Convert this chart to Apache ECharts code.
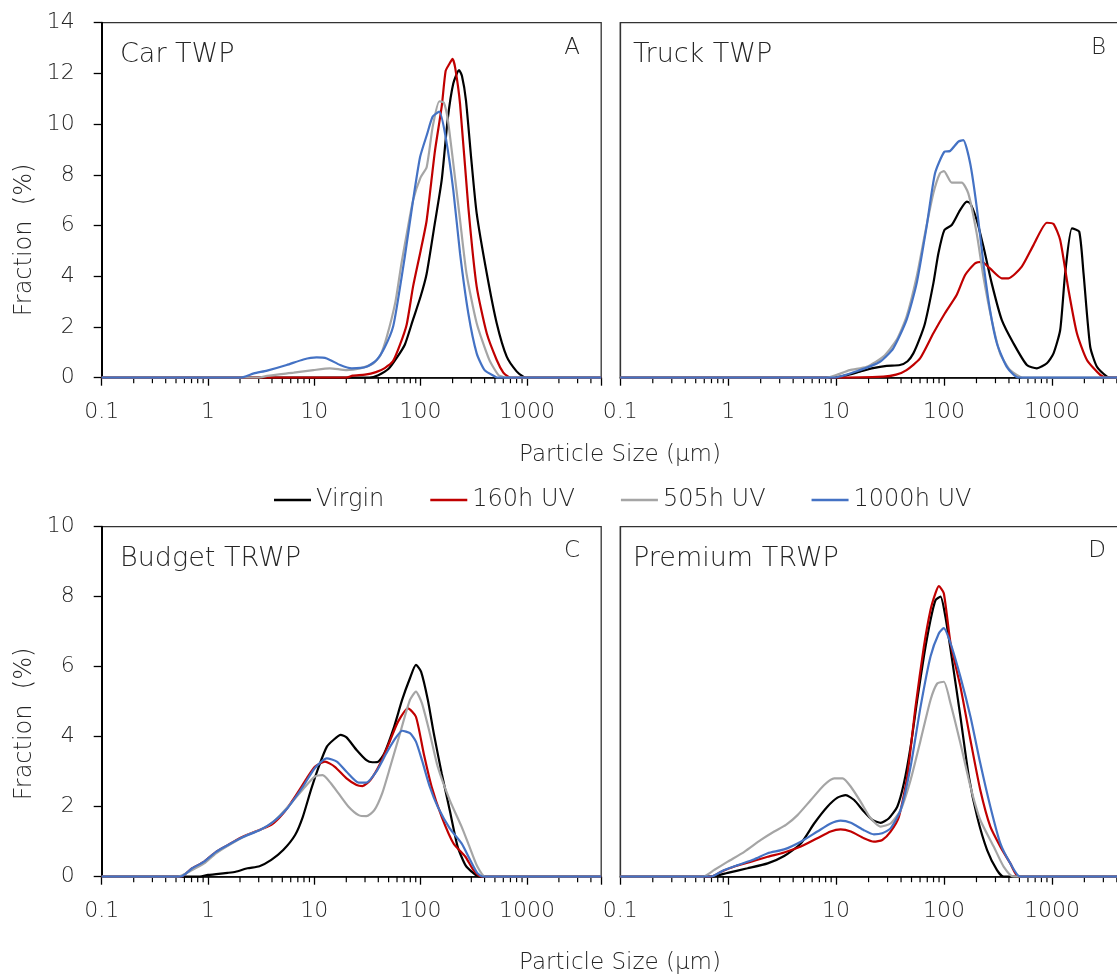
<!DOCTYPE html>
<html>
<head>
<meta charset="utf-8">
<script src="https://cdn.jsdelivr.net/npm/echarts@6/dist/echarts.min.js"></script>
<style>
html,body{margin:0;padding:0;background:#fff;}
#chart{width:1117px;height:978px;}
</style>
</head>
<body>
<div id="chart"></div>
<script>
// ---------------- data ----------------
const seriesNames = ['Virgin', '160h UV', '505h UV', '1000h UV'];
const panelTitles = ['Car TWP', 'Truck TWP', 'Budget TRWP', 'Premium TRWP'];
const panelLetters = ['A', 'B', 'C', 'D'];
const xTickLabels = [0.1, 1, 10, 100, 1000];
const xMin = 0.1, xMax = 5000;
const yMaxTop = 14, yMaxBottom = 10, yStep = 2;
const minorTickSizes = [0.2,0.3,0.4,0.5,0.6,0.7,0.8,0.9, 2,3,4,5,6,7,8,9, 20,30,40,50,60,70,80,90,
  200,300,400,500,600,700,800,900, 2000,3000,4000];

// Panel A - Car TWP  [size µm, fraction %]
const carVirgin = [[0.1,0],[33,0],[40,0.1],[50,0.35],[60,0.8],[71,1.3],[85,2.3],[100,3.2],[114,4.1],[135,6.0],[158,7.8],[180,10.2],[203,11.6],[230,12.13],[245,11.9],[267,10.95],[300,8.6],[337,6.48],[419,4.12],[520,2.15],[646,0.83],[800,0.25],[925,0.04],[1000,0],[5000,0]];
const car160 = [[0.1,0],[20,0],[23,0.08],[30,0.12],[38,0.22],[46,0.38],[55,0.65],[64,1.3],[74,2.1],[85,3.6],[100,5.0],[114,6.2],[136,8.9],[158,10.7],[172,12.1],[185,12.35],[200,12.57],[212,12.2],[235,10.8],[281,6.74],[337,3.59],[419,1.75],[520,0.7],[600,0.2],[668,0.04],[720,0],[5000,0]];
const car505 = [[0.1,0],[3,0],[3.6,0.07],[6.4,0.2],[9.8,0.3],[14,0.37],[20,0.3],[27,0.37],[36,0.57],[42,0.9],[48,1.6],[58,3.0],[66,4.5],[75,5.8],[85,7.0],[100,7.9],[114,8.3],[130,9.9],[150,10.9],[165,10.85],[180,10.2],[203,8.45],[235,6.22],[270,4.12],[337,2.15],[443,0.7],[540,0.1],[591,0.04],[620,0],[5000,0]];
const car1000 = [[0.1,0],[2,0],[2.7,0.17],[3.6,0.28],[5.5,0.5],[7.9,0.72],[10.5,0.8],[13.1,0.76],[17.5,0.5],[22.5,0.37],[31,0.43],[38.6,0.7],[46,1.2],[55,2.0],[62,3.2],[71,4.77],[85,7.0],[99,8.71],[115,9.6],[130,10.3],[150,10.49],[174,9.37],[203,7.4],[235,4.9],[281,2.54],[337,0.96],[400,0.3],[504,0.04],[530,0],[5000,0]];

// Panel B - Truck TWP
const truckVirgin = [[0.1,0],[9.4,0],[12,0.08],[16.6,0.24],[22,0.38],[29.4,0.47],[39,0.5],[46,0.65],[52,0.96],[59,1.5],[66.7,2.15],[79.7,3.72],[88.7,4.9],[100.8,5.82],[118,6.02],[141,6.61],[163,6.94],[175,6.88],[201,6.22],[232,5.17],[277,3.72],[343,2.28],[440,1.36],[586,0.5],[726,0.37],[899,0.57],[1036,0.96],[1194,1.88],[1328,4.12],[1535,5.89],[1792,5.76],[1964,4.12],[2266,1.22],[2616,0.43],[3237,0.04],[3500,0],[5000,0]];
const truck160 = [[0.1,0],[9.4,0],[27.4,0.04],[36,0.12],[45,0.3],[60,0.76],[79.7,1.75],[102,2.54],[131,3.26],[157,4.05],[194,4.51],[224,4.57],[267,4.31],[343,3.92],[396,3.92],[526,4.38],[675,5.23],[899,6.11],[1036,6.06],[1194,5.43],[1426,3.46],[1706,1.75],[2113,0.7],[2807,0.11],[3237,0],[5000,0]];
const truck505 = [[0.1,0],[8.2,0],[10,0.1],[13.4,0.3],[19.2,0.43],[27.4,0.83],[36.4,1.49],[45,2.41],[55.8,3.98],[66.7,5.69],[79.7,7.27],[91.8,8.06],[100,8.15],[118,7.69],[146,7.69],[168,7.27],[201,5.69],[232,3.98],[277,2.28],[331,0.96],[410,0.3],[545,0],[5000,0]];
const truck1000 = [[0.1,0],[9.4,0],[16.6,0.3],[25.5,0.63],[33.9,1.16],[45,2.28],[55.8,3.72],[69,5.96],[82.6,8.06],[100.8,8.91],[113.8,8.94],[136,9.31],[151,9.37],[175,8.45],[201,6.74],[232,4.51],[267,2.67],[309,1.36],[382,0.43],[490,0],[5000,0]];

// Panel C - Budget TRWP
const budgetVirgin = [[0.1,0],[0.84,0],[1,0.05],[1.53,0.11],[1.82,0.14],[2.35,0.24],[3.05,0.3],[3.94,0.48],[5.1,0.76],[6.6,1.19],[7.8,1.71],[9.3,2.48],[11,3.14],[13.1,3.71],[15.3,3.92],[17.7,4.05],[20.1,3.98],[25,3.62],[30.9,3.33],[35.2,3.27],[40,3.29],[45.5,3.52],[56.4,4.29],[67,5.05],[79.4,5.67],[90.4,6.05],[101,5.86],[117,5.05],[133,4.1],[158,2.95],[188,1.9],[223,0.86],[264,0.33],[314,0.1],[357,0],[5000,0]];
const budget160 = [[0.1,0],[0.55,0],[0.71,0.24],[0.92,0.43],[1.19,0.71],[1.53,0.9],[1.98,1.1],[2.79,1.29],[3.94,1.48],[5.1,1.81],[6.6,2.29],[8.5,2.81],[10.1,3.14],[12.6,3.29],[15.6,3.14],[20.1,2.81],[25,2.62],[28.4,2.59],[33.7,2.76],[41.8,3.24],[51.8,3.9],[61.4,4.43],[76.2,4.81],[90.4,4.57],[107,3.52],[127,2.57],[158,1.71],[204,0.95],[264,0.57],[314,0.19],[372,0],[5000,0]];
const budget505 = [[0.1,0],[0.52,0],[0.71,0.19],[0.92,0.38],[1.19,0.67],[1.67,0.95],[2.35,1.19],[3.32,1.38],[4.3,1.62],[6.05,2.1],[8.2,2.57],[10.1,2.86],[12,2.9],[14.3,2.67],[16.9,2.38],[21,2.0],[26.1,1.76],[30.9,1.73],[36.7,1.9],[43.5,2.38],[51.8,3.14],[64.1,4.1],[79.4,5.05],[90.4,5.29],[103,4.95],[122,4.1],[145,3.14],[188,2.19],[243,1.43],[288,0.86],[342,0.29],[406,0],[5000,0]];
const budget1000 = [[0.1,0],[0.55,0],[0.71,0.24],[0.92,0.43],[1.19,0.71],[1.53,0.9],[2.16,1.14],[3.05,1.33],[4.11,1.57],[5.56,1.95],[7.8,2.57],[10.1,3.1],[13.1,3.38],[16.3,3.29],[20.1,3.0],[26.1,2.69],[30.9,2.69],[38.3,3.0],[47.5,3.52],[56.4,3.9],[67,4.17],[79.4,4.1],[90.4,3.86],[103,3.33],[122,2.57],[145,2.0],[188,1.38],[243,0.95],[288,0.52],[342,0.1],[389,0],[5000,0]];

// Panel D - Premium TRWP
const premiumVirgin = [[0.1,0],[0.69,0],[0.99,0.11],[1.51,0.24],[2.32,0.38],[3.3,0.59],[4.71,0.95],[6.26,1.52],[8.3,2.0],[10.3,2.26],[12.3,2.33],[14.7,2.19],[18.1,1.86],[21.7,1.62],[25.9,1.54],[30.9,1.67],[36.9,2.0],[42.5,2.67],[49,3.71],[56.5,5.05],[65.1,6.29],[75,7.33],[83.4,7.9],[92.9,8.0],[103,7.43],[119,6.19],[142,4.57],[170,2.86],[203,1.71],[251,0.76],[310,0.19],[357,0],[5000,0]];
const premium160 = [[0.1,0],[0.69,0],[0.86,0.14],[1.14,0.29],[1.63,0.43],[2.32,0.57],[3.3,0.69],[4.71,0.86],[6.7,1.1],[8.9,1.29],[11,1.35],[13.7,1.29],[18.1,1.1],[22.4,1.0],[26.8,1.05],[32,1.29],[38.2,1.71],[45.6,2.86],[54.5,4.86],[65.1,6.57],[75,7.62],[83.4,8.1],[89.5,8.3],[99.6,8.1],[115,6.67],[142,5.43],[176,3.9],[217,2.48],[269,1.43],[333,0.86],[412,0.38],[492,0],[5000,0]];
const premium505 = [[0.1,0],[0.58,0],[0.74,0.19],[0.99,0.43],[1.41,0.71],[2.01,1.05],[2.67,1.29],[3.43,1.48],[4.39,1.76],[5.83,2.19],[7.75,2.62],[9.6,2.81],[11.5,2.81],[13.7,2.57],[16.9,2.14],[20.9,1.67],[25.9,1.43],[32,1.52],[39.6,1.9],[49,2.76],[60.7,3.9],[75,5.05],[86.5,5.52],[99.6,5.57],[115,4.95],[142,3.81],[176,2.57],[217,1.62],[289,0.86],[357,0.29],[442,0],[5000,0]];
const premium1000 = [[0.1,0],[0.69,0],[0.92,0.19],[1.22,0.33],[1.75,0.5],[2.32,0.67],[3.3,0.78],[4.71,1.0],[6.7,1.29],[8.9,1.52],[11,1.6],[13.7,1.54],[18.1,1.33],[22.4,1.21],[26.8,1.24],[32,1.38],[39.6,1.9],[49,3.14],[60.7,4.86],[75,6.29],[89.5,6.95],[99.6,7.1],[115,6.67],[142,5.71],[176,4.57],[217,3.24],[269,2.0],[333,0.95],[412,0.38],[509,0],[5000,0]];

const panelData = [
  [carVirgin, car160, car505, car1000],
  [truckVirgin, truck160, truck505, truck1000],
  [budgetVirgin, budget160, budget505, budget1000],
  [premiumVirgin, premium160, premium505, premium1000]
];

// ---------------- styling / layout ----------------
const colors = ['#000000', '#C00000', '#A5A5A5', '#4472C4'];
const FONT = "'DejaVu Sans', 'Noto Sans', sans-serif";
const TXT = '#262626';
const grids = [
  {left: 101.7, top: 22.7, width: 499.5, height: 355},
  {left: 620.3, top: 22.7, width: 507, height: 355},
  {left: 101.7, top: 526.7, width: 499.5, height: 350},
  {left: 620.3, top: 526.7, width: 507, height: 350}
];

function isPow10(v) {
  return xTickLabels.some(t => Math.abs(t - v) / t < 1e-6);
}

const xAxes = grids.map((g, i) => ({
  type: 'log', logBase: 10, gridIndex: i, min: xMin, max: xMax,
  axisLine: {show: true, onZero: false, lineStyle: {color: '#000', width: 1.5}},
  axisTick: {show: true, inside: false, length: 8, lineStyle: {color: '#000', width: 1.3}},
  axisLabel: {
    show: true, margin: 24, fontSize: 22, fontFamily: FONT, fontWeight: 200, color: TXT,
    hideOverlap: false,
    formatter: v => isPow10(v) ? String(+(+v).toPrecision(6)) : ''
  },
  splitLine: {show: false},
  minorTick: {show: false}
}));

const yAxes = grids.map((g, i) => {
  const left = (i % 2 === 0);
  return {
    type: 'value', gridIndex: i, min: 0, max: i < 2 ? yMaxTop : yMaxBottom, interval: yStep,
    axisLine: {show: true, lineStyle: {color: left ? '#000' : '#333', width: left ? 2 : 1.3}},
    axisTick: {show: left, inside: false, length: 8, lineStyle: {color: '#000', width: 1.3}},
    axisLabel: {show: left, margin: 27, fontSize: 22, fontFamily: FONT, fontWeight: 200, color: TXT},
    splitLine: {show: false}
  };
});

const series = [];
panelData.forEach((sets, pi) => {
  sets.forEach((d, si) => {
    series.push({
      name: seriesNames[si], type: 'line', xAxisIndex: pi, yAxisIndex: pi,
      data: d, showSymbol: false, symbol: 'none', smooth: 0.2,
      lineStyle: {color: colors[si], width: 2.2}, itemStyle: {color: colors[si]},
      emphasis: {disabled: true}, z: 3 + si
    });
  });
  series.push({
    type: 'custom', xAxisIndex: pi, yAxisIndex: pi, silent: true, clip: false, z: 2,
    data: minorTickSizes.map(v => [v, 0]),
    renderItem: (params, api) => {
      const p = api.coord([api.value(0), 0]);
      return {type: 'line', shape: {x1: p[0], y1: p[1], x2: p[0], y2: p[1] + 5.5},
        style: {stroke: '#000', lineWidth: 1.2}};
    }
  });
});

const graphics = [];
const titlePos = [[120, 55], [633, 55], [120, 559], [633, 559]];
const letterPos = [[580, 48], [1106, 48], [580, 551], [1106, 551]];
panelTitles.forEach((t, i) => {
  graphics.push({type: 'text', x: titlePos[i][0], y: titlePos[i][1], silent: true,
    style: {text: t, fontSize: 27, fontFamily: FONT, fontWeight: 200, fill: TXT, align: 'left', verticalAlign: 'middle'}});
  graphics.push({type: 'text', x: letterPos[i][0], y: letterPos[i][1], silent: true,
    style: {text: panelLetters[i], fontSize: 23, fontFamily: FONT, fontWeight: 200, fill: TXT, align: 'right', verticalAlign: 'middle'}});
});
[[620, 455], [620, 963]].forEach(p => {
  graphics.push({type: 'text', x: p[0], y: p[1], silent: true,
    style: {text: 'Particle Size (µm)', fontSize: 23, fontFamily: FONT, fontWeight: 200, fill: TXT, align: 'center', verticalAlign: 'middle'}});
});
[[25, 240], [25, 724]].forEach(p => {
  graphics.push({type: 'text', x: p[0], y: p[1], rotation: Math.PI / 2, silent: true,
    style: {text: 'Fraction  (%)', fontSize: 24, fontFamily: FONT, fontWeight: 200, fill: TXT, align: 'center', verticalAlign: 'middle'}});
});

const chart = echarts.init(document.getElementById('chart'), null, {renderer: 'canvas'});
chart.setOption({
  animation: false,
  backgroundColor: '#fff',
  grid: grids.map(g => Object.assign({show: true, borderColor: '#333', borderWidth: 1.3, backgroundColor: 'transparent',
    containLabel: false, outerBoundsMode: 'none'}, g)),
  xAxis: xAxes,
  yAxis: yAxes,
  legend: {
    data: seriesNames, left: 269, top: 483, itemGap: 46, itemWidth: 37, itemHeight: 2.5, icon: 'rect',
    textStyle: {fontSize: 24, fontFamily: FONT, fontWeight: 200, color: TXT},
    selectedMode: false
  },
  series: series,
  graphic: graphics
});
</script>
</body>
</html>
